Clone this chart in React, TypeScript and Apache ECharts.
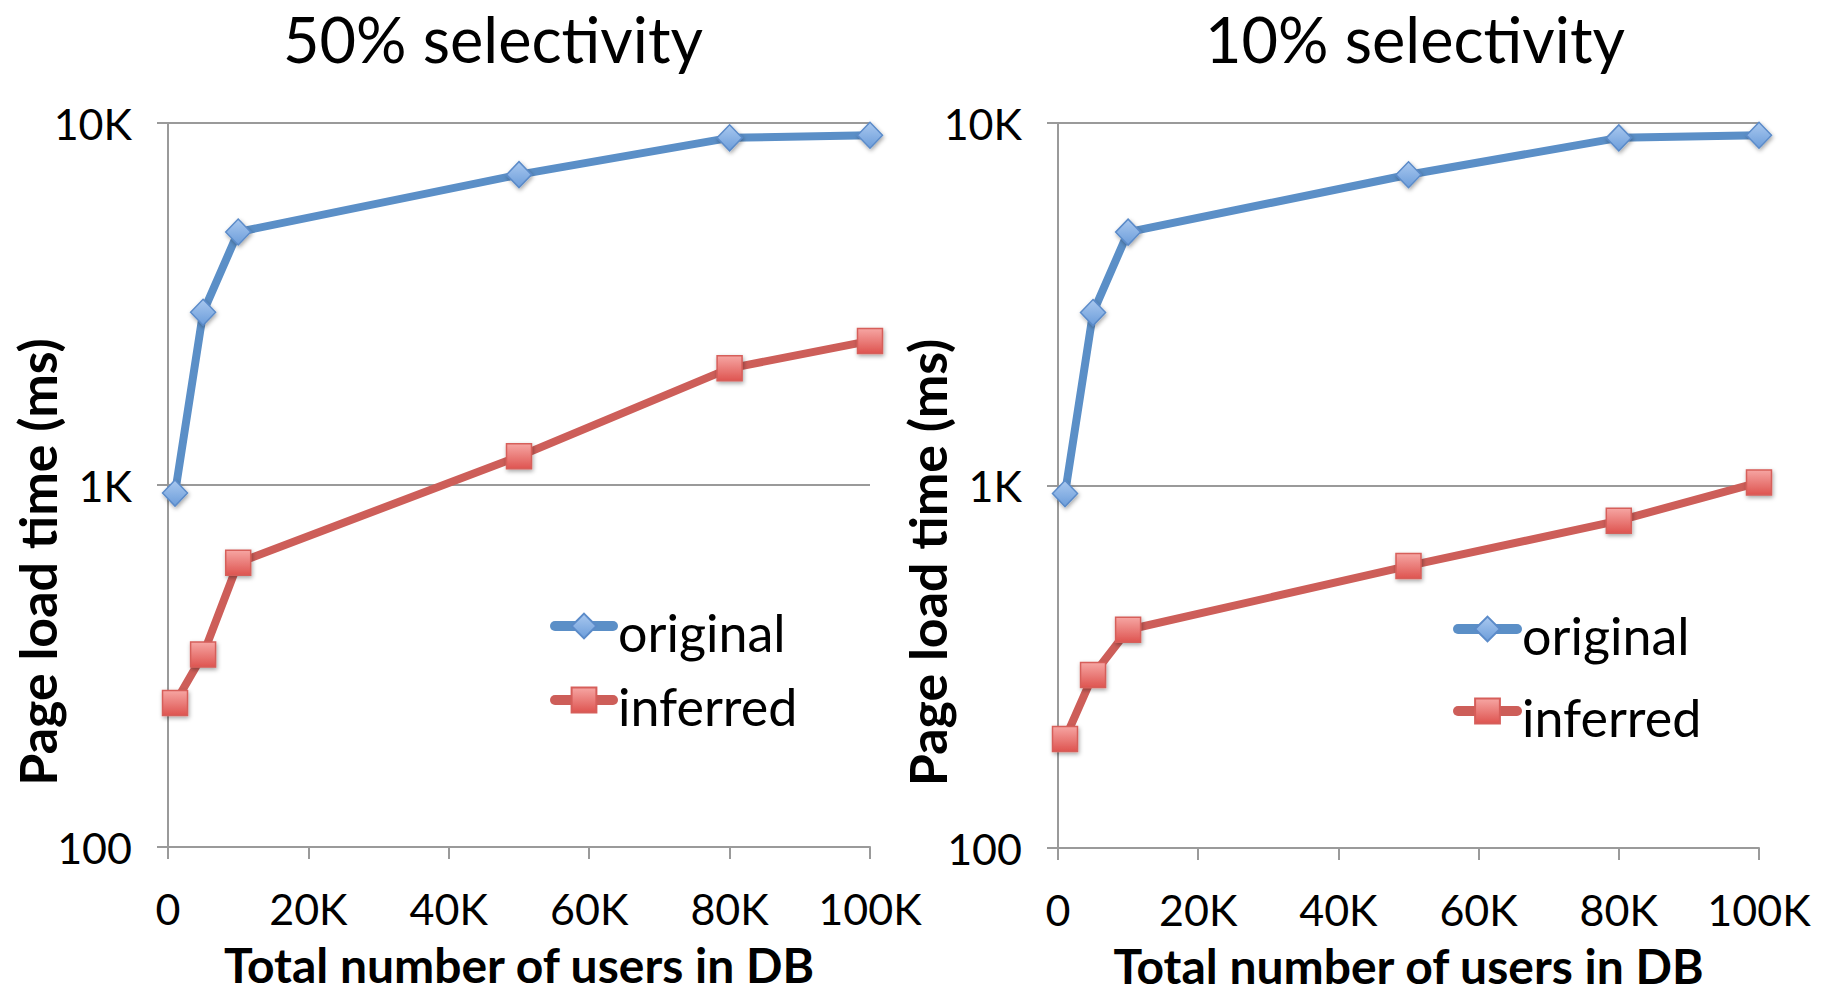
import React, { useEffect, useRef } from "react";
import * as echarts from "echarts";

const users = [1000, 5000, 10000, 50000, 80000, 100000];
const original50 = [950, 3000, 5000, 7200, 9100, 9250];
const inferred50 = [250, 340, 610, 1200, 2100, 2500];
const original10 = [950, 3000, 5000, 7200, 9100, 9250];
const inferred10 = [200, 300, 400, 600, 800, 1020];
const titles = ["50% selectivity", "10% selectivity"];
const seriesNames = ["original", "inferred"];
const xAxisName = "Total number of users in DB";
const yAxisName = "Page load time (ms)";

const FONT = "Lato";
const BLUE_LINE = "#5B8FC7";
const RED_LINE = "#CD5E59";

const blueFill = () =>
  new echarts.graphic.LinearGradient(0, 0, 0, 1, [
    { offset: 0, color: "#A9C8EF" },
    { offset: 1, color: "#6C9DDA" },
  ]);
const redFill = () =>
  new echarts.graphic.LinearGradient(0, 0, 0, 1, [
    { offset: 0, color: "#F6A6A3" },
    { offset: 1, color: "#DE5450" },
  ]);

const fmtX = (v: number) => (v === 0 ? "0" : v / 1000 + "K");
const fmtY = (v: number) => (v >= 1000 ? v / 1000 + "K" : String(v));

const grids = [
  { left: 168, top: 123, width: 702, height: 724 },
  { left: 1058, top: 123, width: 701, height: 725 },
];

function makeSeries(name: string, values: number[], idx: number, kind: "o" | "i") {
  const isO = kind === "o";
  return {
    name,
    type: "line",
    xAxisIndex: idx,
    yAxisIndex: idx,
    data: users.map((u, i) => [u, values[i]]),
    symbol: isO ? "diamond" : "rect",
    symbolSize: isO ? [25, 26] : [25, 25],
    lineStyle: { color: isO ? BLUE_LINE : RED_LINE, width: 8 },
    itemStyle: {
      color: isO ? blueFill() : redFill(),
      borderColor: isO ? "#5B8BC9" : "#D65E5A",
      borderWidth: 1.5,
      shadowBlur: 4,
      shadowOffsetX: 1,
      shadowOffsetY: 2,
      shadowColor: "rgba(0,0,0,0.35)",
    },
    z: isO ? 3 : 2,
  };
}

export default function App() {
  const ref = useRef<HTMLDivElement>(null);
  useEffect(() => {
    if (!ref.current) return;
    const chart = echarts.init(ref.current, null, { renderer: "svg" });
    const xAxes = grids.map((_, i) => ({
      type: "value",
      gridIndex: i,
      min: 0,
      max: 100000,
      interval: 20000,
      name: xAxisName,
      nameLocation: "middle",
      nameGap: 97,
      nameMoveOverlap: false,
      nameTextStyle: { fontFamily: FONT, fontWeight: "bold", fontSize: 48, lineHeight: 40, color: "#000" },
      axisLine: { show: true, lineStyle: { color: "#9A9A9A", width: 2 } },
      axisTick: { show: true, length: 12, lineStyle: { color: "#9A9A9A", width: 2 } },
      splitLine: { show: false },
      axisLabel: { formatter: fmtX, fontFamily: FONT, fontSize: 43, color: "#000", margin: 40 },
    }));
    const yAxes = grids.map((_, i) => ({
      type: "log",
      logBase: 10,
      gridIndex: i,
      min: 100,
      max: 10000,
      name: yAxisName,
      nameLocation: "middle",
      nameGap: 105,
      nameRotate: 90,
      nameMoveOverlap: false,
      nameTextStyle: {
        fontFamily: FONT,
        fontWeight: "bold",
        fontSize: 52,
        lineHeight: 52,
        color: "#000",
        padding: [0, 154, 0, 0],
      },
      axisLine: { show: true, lineStyle: { color: "#9A9A9A", width: 2 } },
      axisTick: { show: true, length: 11, lineStyle: { color: "#9A9A9A", width: 2 } },
      minorTick: { show: false },
      splitLine: { show: true, lineStyle: { color: "#9A9A9A", width: 2 } },
      axisLabel: {
        formatter: fmtY,
        fontFamily: FONT,
        fontSize: 43,
        color: "#000",
        margin: 36,
        padding: [8, 0, 0, 0],
      },
    }));
    const legendText = {
      fontFamily: FONT,
      fontSize: 52,
      color: "#000",
      rich: {
        t: {
          fontFamily: FONT,
          fontSize: 52,
          lineHeight: 52,
          color: "#000",
          padding: [12, 0, 0, 0],
        },
      },
    };
    const legendFmt = (name: string) => `{t|${name}}`;
    const option = {
      animation: false,
      backgroundColor: "#fff",
      title: titles.map((t, i) => ({
        text: t,
        left: i === 0 ? 493 : 1415,
        top: 10,
        textAlign: "center",
        padding: 0,
        textStyle: { fontFamily: FONT, fontWeight: "normal", fontSize: 63, lineHeight: 56, color: "#000" },
      })),
      legend: [
        {
          orient: "vertical",
          left: 550,
          top: 594,
          padding: 0,
          itemWidth: 58,
          itemHeight: 31,
          itemGap: 10,
          data: seriesNames,
          formatter: legendFmt,
          lineStyle: { width: 10, cap: "round" },
          textStyle: legendText,
        },
        {
          orient: "vertical",
          left: 1453,
          top: 597,
          padding: 0,
          itemWidth: 59,
          itemHeight: 31,
          itemGap: 18,
          data: seriesNames,
          formatter: legendFmt,
          lineStyle: { width: 10, cap: "round" },
          textStyle: legendText,
        },
      ],
      grid: grids.map((g) => ({ ...g, containLabel: false, outerBoundsMode: "none" })),
      xAxis: xAxes,
      yAxis: yAxes,
      series: [
        makeSeries(seriesNames[0], original50, 0, "o"),
        makeSeries(seriesNames[1], inferred50, 0, "i"),
        makeSeries(seriesNames[0], original10, 1, "o"),
        makeSeries(seriesNames[1], inferred10, 1, "i"),
      ],
    };
    chart.setOption(option as any);
    return () => chart.dispose();
  }, []);
  return (
    <div
      ref={ref}
      style={{ position: "fixed", left: 0, top: 0, width: 1830, height: 993, background: "#fff" }}
    />
  );
}
